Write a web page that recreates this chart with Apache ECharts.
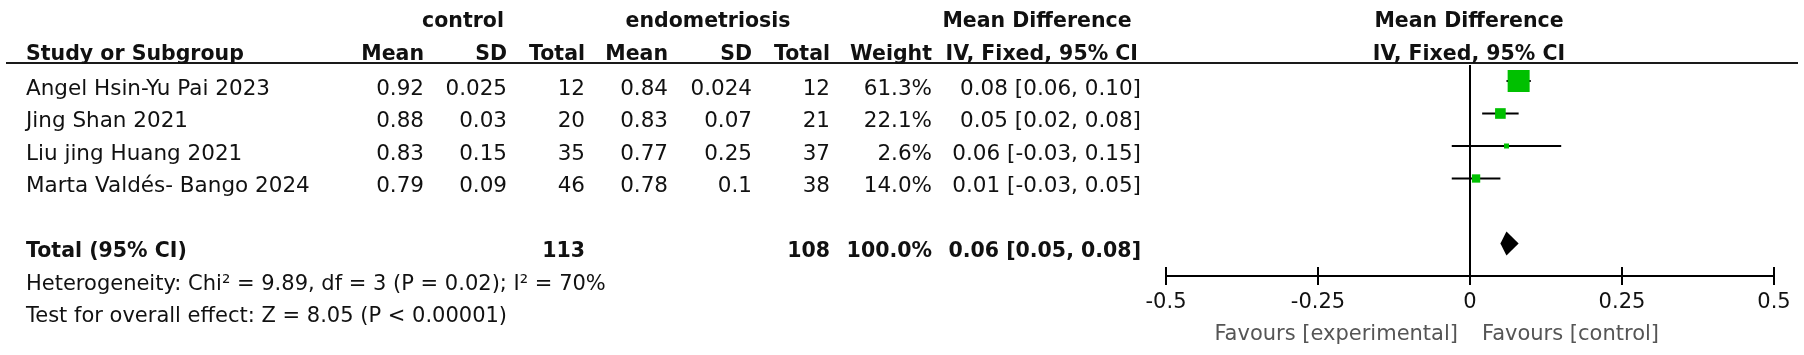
<!DOCTYPE html>
<html>
<head>
<meta charset="utf-8">
<script src="https://cdn.jsdelivr.net/npm/echarts@6/dist/echarts.min.js"></script>
<style>
  html, body { margin: 0; padding: 0; background: #fff; }
  #chart { width: 1804px; height: 355px; }
</style>
</head>
<body>
<div id="chart"></div>
<script>
// study data
const studies = ['Angel Hsin-Yu Pai 2023', 'Jing Shan 2021', 'Liu jing Huang 2021', 'Marta Valdés- Bango 2024'];
const ctrlMean = [0.92, 0.88, 0.83, 0.79];
const ctrlSD = [0.025, 0.03, 0.15, 0.09];
const ctrlTotal = [12, 20, 35, 46];
const endoMean = [0.84, 0.83, 0.77, 0.78];
const endoSD = [0.024, 0.07, 0.25, 0.1];
const endoTotal = [12, 21, 37, 38];
const weights = [61.3, 22.1, 2.6, 14.0];
const meanDiff = [0.08, 0.05, 0.06, 0.01];
const ciLow = [0.06, 0.02, -0.03, -0.03];
const ciHigh = [0.10, 0.08, 0.15, 0.05];

// pooled result
const totalCtrl = 113;
const totalEndo = 108;
const totalWeight = 100.0;
const pooled = [0.06, 0.05, 0.08]; // estimate, low, high
const heterogeneity = { chi2: '9.89', df: 3, p: '0.02', i2: 70 };
const overall = { z: '8.05', p: '< 0.00001' };

// axis
const xTicks = [-0.5, -0.25, 0, 0.25, 0.5];

// layout (pixels)
const TOTAL_ROW = 5;
const COL = { study: 26, cMean: 424, cSD: 507, cTot: 585, eMean: 668, eSD: 752, eTot: 830, weight: 932, ci: 1141 };
const FONT = '21.5px "DejaVu Sans"';
const BOLD = 'bold 20.5px "DejaVu Sans"';
const INK = '#111';

const fmtCI = (m, lo, hi) => m.toFixed(2) + ' [' + lo.toFixed(2) + ', ' + hi.toFixed(2) + ']';

// table cells: [x, row, text, align, bold]
const cells = [];
studies.forEach((s, i) => {
  cells.push([COL.study, i, s, 'left', false]);
  cells.push([COL.cMean, i, ctrlMean[i].toFixed(2), 'right', false]);
  cells.push([COL.cSD, i, String(ctrlSD[i]), 'right', false]);
  cells.push([COL.cTot, i, String(ctrlTotal[i]), 'right', false]);
  cells.push([COL.eMean, i, endoMean[i].toFixed(2), 'right', false]);
  cells.push([COL.eSD, i, String(endoSD[i]), 'right', false]);
  cells.push([COL.eTot, i, String(endoTotal[i]), 'right', false]);
  cells.push([COL.weight, i, weights[i].toFixed(1) + '%', 'right', false]);
  cells.push([COL.ci, i, fmtCI(meanDiff[i], ciLow[i], ciHigh[i]), 'right', false]);
});
cells.push([COL.study, TOTAL_ROW, 'Total (95% CI)', 'left', true]);
cells.push([COL.cTot, TOTAL_ROW, String(totalCtrl), 'right', true]);
cells.push([COL.eTot, TOTAL_ROW, String(totalEndo), 'right', true]);
cells.push([COL.weight, TOTAL_ROW, totalWeight.toFixed(1) + '%', 'right', true]);
cells.push([COL.ci, TOTAL_ROW, fmtCI(pooled[0], pooled[1], pooled[2]), 'right', true]);

const minW = Math.min(...weights), maxW = Math.max(...weights);
const boxSize = w => 5 + 17 * (w - minW) / (maxW - minW);

const txt = (text, x, y, align, font, fill) => ({
  type: 'text', x: x, y: y + 2, silent: true,
  style: { text: text, font: font, fill: fill || INK, align: align, textAlign: align, verticalAlign: 'middle', textVerticalAlign: 'middle' }
});

const myChart = echarts.init(document.getElementById('chart'));
const yRange = { min: -0.492, max: 6 };

myChart.setOption({
  animation: false,
  backgroundColor: '#fff',
  grid: [
    { left: 0, right: 0, top: 65, bottom: 79, containLabel: false, outerBoundsMode: 'none' },
    { left: 1166, right: 30, top: 65, bottom: 79, containLabel: false, outerBoundsMode: 'none' }
  ],
  xAxis: [
    { gridIndex: 0, type: 'value', min: 0, max: 1804, show: false },
    {
      gridIndex: 1, type: 'value', position: 'bottom', min: xTicks[0], max: xTicks[xTicks.length - 1], interval: 0.25,
      axisLine: { onZero: false, lineStyle: { color: '#000', width: 2 } },
      axisTick: { length: 9, lineStyle: { color: '#000', width: 2 } },
      axisLabel: { color: INK, fontFamily: 'DejaVu Sans', fontSize: 21, margin: 16 },
      splitLine: { show: false }
    },
    {
      gridIndex: 1, type: 'value', position: 'bottom', min: xTicks[0], max: xTicks[xTicks.length - 1], interval: 0.25,
      axisLine: { show: false, onZero: false },
      axisTick: { inside: true, length: 9, lineStyle: { color: '#000', width: 2 } },
      axisLabel: { show: false },
      splitLine: { show: false }
    }
  ],
  yAxis: [
    { gridIndex: 0, type: 'value', inverse: true, min: yRange.min, max: yRange.max, show: false },
    { gridIndex: 1, type: 'value', inverse: true, min: yRange.min, max: yRange.max, show: false, axisLine: { onZero: false } }
  ],
  graphic: [
    { type: 'line', silent: true, shape: { x1: 6, y1: 63, x2: 1798, y2: 63 }, style: { stroke: '#1a1a1a', lineWidth: 2 } },
    txt('control', 463, 20, 'center', BOLD),
    txt('endometriosis', 708, 20, 'center', BOLD),
    txt('Mean Difference', 1037, 20, 'center', BOLD),
    txt('Mean Difference', 1469, 20, 'center', BOLD),
    txt('Study or Subgroup', COL.study, 53, 'left', BOLD),
    txt('Mean', COL.cMean, 53, 'right', BOLD),
    txt('SD', COL.cSD, 53, 'right', BOLD),
    txt('Total', COL.cTot, 53, 'right', BOLD),
    txt('Mean', COL.eMean, 53, 'right', BOLD),
    txt('SD', COL.eSD, 53, 'right', BOLD),
    txt('Total', COL.eTot, 53, 'right', BOLD),
    txt('Weight', COL.weight, 53, 'right', BOLD),
    txt('IV, Fixed, 95% CI', COL.ci - 3, 53, 'right', BOLD),
    txt('IV, Fixed, 95% CI', 1469, 53, 'center', BOLD),
    txt('Heterogeneity: Chi² = ' + heterogeneity.chi2 + ', df = ' + heterogeneity.df + ' (P = ' + heterogeneity.p + '); I² = ' + heterogeneity.i2 + '%', COL.study, 283, 'left', '21px "DejaVu Sans"'),
    txt('Test for overall effect: Z = ' + overall.z + ' (P ' + overall.p + ')', COL.study, 315, 'left', '21px "DejaVu Sans"'),
    txt('Favours [experimental]', 1458, 333, 'right', '21px "DejaVu Sans"', '#555'),
    txt('Favours [control]', 1482, 333, 'left', '21px "DejaVu Sans"', '#555')
  ],
  series: [
    {
      // table body
      type: 'custom', xAxisIndex: 0, yAxisIndex: 0, silent: true, clip: false,
      data: cells.map(c => [c[0], c[1]]),
      encode: { x: 0, y: 1 },
      renderItem: (params, api) => {
        const c = cells[params.dataIndex];
        const p = api.coord([c[0], c[1]]);
        return txt(c[2], p[0], p[1] + 6, c[3], c[4] ? BOLD : FONT);
      }
    },
    {
      // confidence intervals
      type: 'custom', xAxisIndex: 1, yAxisIndex: 1, silent: true, z: 2,
      data: studies.map((s, i) => [ciLow[i], ciHigh[i], i]),
      encode: { x: [0, 1], y: 2 },
      renderItem: (params, api) => {
        const a = api.coord([api.value(0), api.value(2)]);
        const b = api.coord([api.value(1), api.value(2)]);
        return { type: 'line', shape: { x1: a[0], y1: a[1], x2: b[0], y2: b[1] }, style: { stroke: '#000', lineWidth: 2 } };
      },
      markLine: {
        silent: true, symbol: 'none', label: { show: false },
        lineStyle: { color: '#000', width: 2, type: 'solid' },
        data: [{ xAxis: 0 }]
      }
    },
    {
      // study estimates
      type: 'scatter', xAxisIndex: 1, yAxisIndex: 1, silent: true, z: 3,
      symbol: 'rect',
      symbolSize: (v, p) => boxSize(weights[p.dataIndex]),
      itemStyle: { color: '#00c000', opacity: 1 },
      data: meanDiff.map((m, i) => [m, i])
    },
    {
      // pooled diamond
      type: 'custom', xAxisIndex: 1, yAxisIndex: 1, silent: true, z: 3,
      data: [[pooled[0], pooled[1], pooled[2], TOTAL_ROW]],
      encode: { x: [0, 1, 2], y: 3 },
      renderItem: (params, api) => {
        const c = api.coord([api.value(0), api.value(3)]);
        const l = api.coord([api.value(1), api.value(3)]);
        const r = api.coord([api.value(2), api.value(3)]);
        return {
          type: 'polygon',
          shape: { points: [[l[0], c[1]], [c[0], c[1] - 12], [r[0], c[1]], [c[0], c[1] + 12]] },
          style: { fill: '#000' }
        };
      }
    }
  ]
});
</script>
</body>
</html>
